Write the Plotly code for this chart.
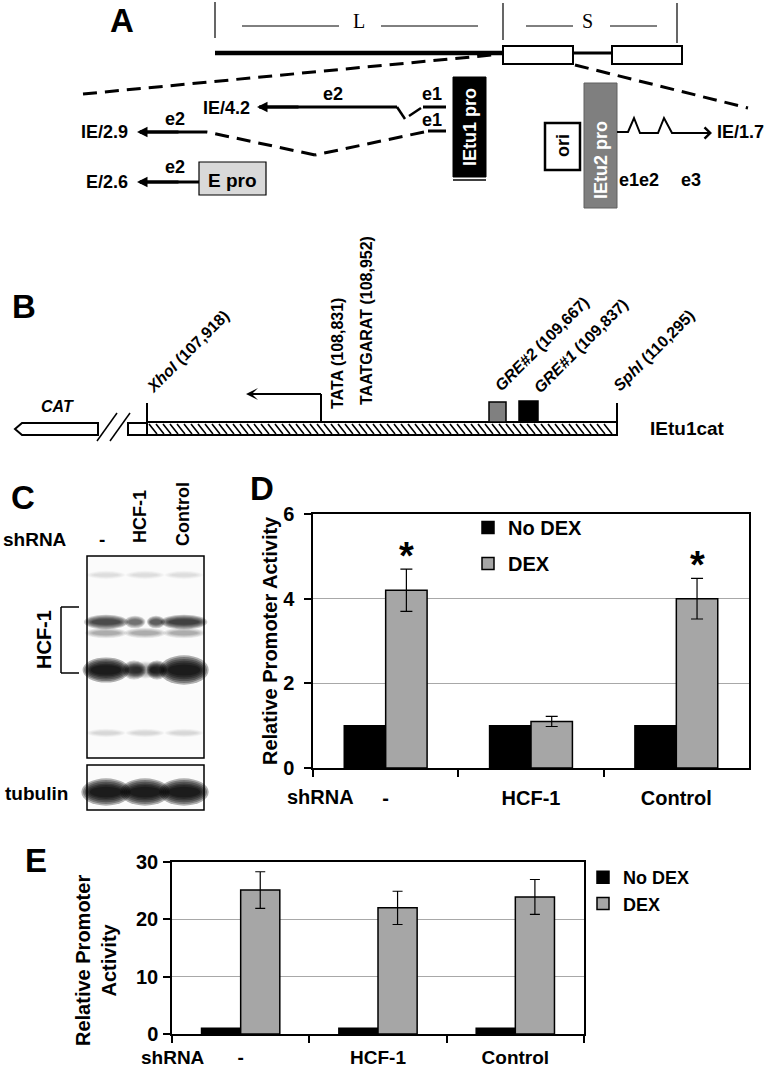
import plotly.graph_objects as go

W, H = 766, 1070
FONT = "Liberation Sans, Arial, Helvetica, sans-serif"
SERIF = "Liberation Serif, Times New Roman, serif"

# ---------------- data (panels D and E) ----------------
categories = ["-", "HCF-1", "Control"]
series_names = ["No DEX", "DEX"]
d_nodex = [1.0, 1.0, 1.0]
d_dex = [4.2, 1.1, 4.0]
d_dex_err = [0.5, 0.12, 0.48]
d_significant = [True, False, True]
d_yticks = [0, 2, 4, 6]
e_nodex = [1.0, 1.0, 1.0]
e_dex = [25.1, 22.0, 23.9]
e_dex_err = [3.2, 2.9, 3.05]
e_yticks = [0, 10, 20, 30]

NODEX_COLOR = "#000000"
DEX_COLOR = "#a6a6a6"
BARGAP = 0.43


def X(x):
    return x / W


def Y(y):
    return 1 - y / H


shapes = []
annotations = []


def line(x0, y0, x1, y1, w=1.0, color="black", dash=None):
    d = dict(type="line", xref="paper", yref="paper", x0=X(x0), y0=Y(y0), x1=X(x1), y1=Y(y1),
             line=dict(color=color, width=w))
    if dash:
        d["line"]["dash"] = dash
    shapes.append(d)


def rect(x0, y0, x1, y1, fill="white", lw=1.5, lc="black"):
    shapes.append(dict(type="rect", xref="paper", yref="paper", x0=X(x0), y0=Y(y0), x1=X(x1), y1=Y(y1),
                       fillcolor=fill, line=dict(color=lc, width=lw)))


def ellipse(cx, cy, w, h, fill):
    shapes.append(dict(type="circle", xref="paper", yref="paper", x0=X(cx - w / 2), y0=Y(cy + h / 2),
                       x1=X(cx + w / 2), y1=Y(cy - h / 2), fillcolor=fill, line=dict(width=0)))


def path(points, w=2.0, fill=None, close=False):
    s = "M" + " L".join(f"{X(px)},{Y(py)}" for px, py in points)
    if close:
        s += " Z"
    d = dict(type="path", xref="paper", yref="paper", path=s, line=dict(color="black", width=w))
    if fill:
        d["fillcolor"] = fill
    shapes.append(d)


def text(x, y, t, size=18, bold=True, color="black", angle=0, xanchor="center", family=FONT, italic=False):
    f = dict(family=family, size=size, color=color)
    if bold:
        f["weight"] = "bold"
    if italic:
        f["style"] = "italic"
    annotations.append(dict(xref="paper", yref="paper", x=X(x), y=Y(y), text=t, showarrow=False,
                            font=f, textangle=angle, xanchor=xanchor, yanchor="middle", borderpad=0))


def arrow(tipx, tipy, tailx, taily, w=3, size=0.7, head=2):
    annotations.append(dict(xref="paper", yref="paper", x=X(tipx), y=Y(tipy), axref="pixel", ayref="pixel",
                            ax=tailx - tipx, ay=taily - tipy, text="", showarrow=True, arrowhead=head,
                            arrowsize=size, arrowwidth=w, arrowcolor="black", standoff=0))


# ---------------- panel letters ----------------
for letter, lx, ly in [("A", 122, 20), ("B", 24, 306), ("C", 23, 497), ("D", 262, 489), ("E", 36, 860)]:
    text(lx, ly, letter, size=33)

# ---------------- panel A ----------------
line(215, 2, 215, 38, 1.2)
line(503, 3, 503, 40, 1.2)
line(677, 3, 677, 43, 1.2)
line(242, 26, 339, 26, 1)
line(381, 26, 478, 26, 1)
line(526, 26, 573, 26, 1)
line(610, 26, 657, 26, 1)
text(359, 21, "L", size=20, bold=False, family=SERIF)
text(587, 21, "S", size=20, bold=False, family=SERIF)
line(215, 53, 503, 53, 4.5)
rect(503, 46, 573, 64, "white", 2)
line(573, 53, 612, 53, 3)
rect(612, 46, 682, 64, "white", 2)
line(83, 94, 492, 55, 3, dash="14px,8px")
line(575, 65, 748, 108, 3, dash="14px,8px")

# IE/4.2 transcript
line(259, 107, 397, 107, 3)
arrow(257, 107, 300, 107)
line(397, 107, 405, 119, 2.5)
line(409, 116, 421, 108, 2.5)
line(423, 107, 446, 107, 3)
text(251, 108, "IE/4.2", xanchor="right")
text(333, 94, "e2")
text(432, 94, "e1")
# IE/2.9 transcript
line(428, 131, 446, 131, 3)
text(432, 120, "e1")
line(424, 132, 315, 155, 3, dash="14px,8px")
line(315, 155, 207, 132, 3, dash="14px,8px")
line(140, 132, 207, 132, 3)
arrow(137, 132, 180, 132)
text(129, 132, "IE/2.9", xanchor="right")
text(175, 119, "e2")
# E/2.6 transcript
line(140, 182, 199, 182, 3)
arrow(137, 182, 180, 182)
text(129, 182, "E/2.6", xanchor="right")
text(175, 167, "e2")
rect(199, 162, 266, 195, "#d9d9d9", 1.2)
text(232, 180, "E pro", size=19)
# promoters
rect(453, 77, 486, 177, "black", 1)
line(453, 180, 486, 180, 1.5)
text(470, 127, "IEtu1 pro", size=18, color="white", angle=-90)
rect(545, 123, 580, 170, "white", 2.5)
text(563, 146, "ori", size=18, angle=-90)
rect(584, 83, 617, 208, "#7f7f7f", 1, "#606060")
text(601, 160, "IEtu2 pro", size=18, color="white", angle=-90)
path([(617, 132), (628, 132), (634, 118), (640, 133), (658, 133), (664, 118), (672, 133), (707, 133)], w=2)
arrow(712, 133, 690, 133, w=2, size=1.1, head=4)
text(765, 132, "IE/1.7", xanchor="right", size=18)
text(639, 180, "e1e2")
text(691, 180, "e3")

# ---------------- panel B ----------------
path([(15, 429), (22, 423), (98, 423), (98, 435), (22, 435)], w=2, fill="white", close=True)
text(57, 406, "CAT", size=16, italic=True)
line(97, 441, 117, 413, 1.5)
line(110, 441, 130, 413, 1.5)
rect(128, 423, 147, 435, "white", 2)
rect(147, 422, 617, 435, "white", 2)
hatch = []
for hx in range(149, 610, 7):
    hatch.append(f"M{X(hx)},{Y(424)} L{X(hx + 8)},{Y(434)}")
shapes.append(dict(type="path", xref="paper", yref="paper", path=" ".join(hatch),
                   line=dict(color="black", width=1.6)))
line(147, 403, 147, 423, 2)
line(617, 403, 617, 435, 2)
line(321, 422, 321, 394, 2)
line(252, 394, 321, 394, 2)
arrow(246, 394, 280, 394, w=2, size=1.0, head=3)
rect(489, 402, 506, 422, "#808080", 1.5)
rect(519, 401, 538, 422, "black", 1.5)
text(188, 352, "<i>XhoI</i> (107,918)", size=16, angle=-45)
text(338, 354, "TATA (108,831)", size=16, angle=-90)
text(366, 321, "TAATGARAT (108,952)", size=16, angle=-90)
text(541, 344, "<i>GRE#2</i> (109,667)", size=16, angle=-45)
text(580, 346, "<i>GRE#1</i> (109,837)", size=16, angle=-45)
text(654, 351, "<i>SphI</i> (110,295)", size=16, angle=-45)
text(649, 428, "IEtu1cat", size=19, xanchor="left")

# ---------------- panel C (western blot) ----------------
text(35, 540, "shRNA", size=19)
text(102, 539, "-", size=19)
text(140, 517, "HCF-1", size=18, angle=-90)
text(183, 514, "Control", size=18, angle=-90)
rect(87, 556, 204, 758, "#fbfbfb", 1.5)
rect(87, 765, 204, 810, "#fbfbfb", 1.5)
text(36, 793, "tubulin", size=19)
line(61, 607, 61, 673, 1.5)
line(61, 607, 79, 607, 1.5)
line(61, 673, 79, 673, 1.5)
text(44, 640, "HCF-1", size=20, angle=-90)

lanes = [106, 145, 184]


def band(cx, cy, w, h, a):
    # soft band: stacked translucent ellipses, wide/faint outside to narrow/dark inside
    n = 6
    for k in range(n):
        t = k / (n - 1)
        ww = w * (1.3 - 0.45 * t)
        hh = h * (2.1 - 1.3 * t)
        ellipse(cx, cy, ww, hh, f"rgba(0,0,0,{a * 0.3:.3f})")


for cx in lanes:
    band(cx, 575, 30, 4, 0.06)
    band(cx, 733, 30, 4, 0.08)
band(lanes[0], 622, 34, 7, 0.6)
band(lanes[2], 622, 36, 7, 0.65)
band(lanes[1] - 10, 622, 16, 6, 0.4)
band(lanes[1] + 11, 622, 14, 6, 0.5)
for cx in lanes:
    band(cx, 633, 32, 5, 0.2)
band(lanes[0], 670, 36, 12, 1.0)
band(lanes[2], 670, 38, 14, 1.0)
band(lanes[1] - 11, 670, 18, 9, 0.6)
band(lanes[1] + 12, 670, 16, 9, 0.75)
band(lanes[1], 670, 30, 8, 0.25)
for cx in lanes:
    band(cx, 792, 38, 13, 1.0)

# ---------------- panels D and E (bar charts) ----------------
fig = go.Figure()
marker_line = dict(color="black", width=1.5)
fig.add_trace(go.Bar(x=categories, y=d_nodex, name=series_names[0], legendgroup="nodex",
                     marker=dict(color=NODEX_COLOR, line=marker_line), xaxis="x", yaxis="y", legend="legend"))
fig.add_trace(go.Bar(x=categories, y=d_dex, name=series_names[1], legendgroup="dex",
                     marker=dict(color=DEX_COLOR, line=marker_line),
                     error_y=dict(type="data", array=d_dex_err, color="black", thickness=1.2, width=6),
                     xaxis="x", yaxis="y", legend="legend"))
fig.add_trace(go.Bar(x=categories, y=e_nodex, name=series_names[0], legendgroup="nodex2",
                     marker=dict(color=NODEX_COLOR, line=marker_line), xaxis="x2", yaxis="y2", legend="legend2"))
fig.add_trace(go.Bar(x=categories, y=e_dex, name=series_names[1], legendgroup="dex2",
                     marker=dict(color=DEX_COLOR, line=marker_line),
                     error_y=dict(type="data", array=e_dex_err, color="black", thickness=1.2, width=5),
                     xaxis="x2", yaxis="y2", legend="legend2"))

# significance asterisks above DEX bars
dex_offset = (1 - BARGAP) / 4
for i, sig in enumerate(d_significant):
    if sig:
        annotations.append(dict(xref="x", yref="y", x=i + dex_offset, y=d_dex[i] + d_dex_err[i],
                                text="*", showarrow=False, yanchor="bottom", yshift=-10,
                                font=dict(family=FONT, size=38, color="black", weight="bold")))

# shRNA row labels and y-axis titles
text(320, 797, "shRNA", size=20)
text(173, 1057, "shRNA", size=19)
text(270, 641, "Relative Promoter Activity", size=20, angle=-90)
text(96, 960, "Relative Promoter<br>Activity", size=20, angle=-90)

bold20 = dict(family=FONT, size=20, color="black", weight="bold")
bold19 = dict(family=FONT, size=19, color="black", weight="bold")


def xaxis_cfg(domain, anchor, standoff, tfont):
    return dict(domain=domain, anchor=anchor, type="category", showline=True, linecolor="black",
                linewidth=1.5, mirror=True, ticks="outside", tickson="boundaries", ticklen=7,
                tickwidth=1.5, tickcolor="black", tickfont=tfont, ticklabelstandoff=standoff,
                showgrid=False, zeroline=False, automargin=False)


def yaxis_cfg(domain, anchor, rng, tickvals, standoff):
    return dict(domain=domain, anchor=anchor, range=rng, tickvals=tickvals, showline=True,
                linecolor="black", linewidth=1.5, mirror=True, ticks="outside", ticklen=7,
                tickwidth=1.5, tickcolor="black", tickfont=bold20, ticklabelstandoff=standoff,
                showgrid=True, gridcolor="#a8a8a8", gridwidth=1, zeroline=False, automargin=False)


fig.update_layout(
    width=W, height=H, margin=dict(l=0, r=0, t=0, b=0, autoexpand=False),
    paper_bgcolor="white", plot_bgcolor="white",
    barmode="group", bargap=BARGAP, bargroupgap=0,
    font=dict(family=FONT, color="black"),
    xaxis=xaxis_cfg([X(313), X(749)], "y", 11, bold20),
    yaxis=yaxis_cfg([Y(768), Y(514)], "x", [0, 6], d_yticks, 6),
    xaxis2=xaxis_cfg([X(172), X(584)], "y2", 5, bold19),
    yaxis2=yaxis_cfg([Y(1034), Y(862)], "x2", [0, 30], e_yticks, 1),
    legend=dict(x=X(468), y=Y(508), xanchor="left", yanchor="top", bgcolor="rgba(0,0,0,0)",
                font=bold20, traceorder="grouped", tracegroupgap=7),
    legend2=dict(x=X(583), y=Y(859), xanchor="left", yanchor="top", bgcolor="rgba(0,0,0,0)",
                 font=dict(family=FONT, size=18, color="black", weight="bold"), traceorder="grouped",
                 tracegroupgap=0),
    shapes=shapes, annotations=annotations,
)

fig.write_html(
    "out.html",
    config={"displayModeBar": False},
    post_script="document.body.style.margin='0';document.body.style.padding='0';"
                "document.documentElement.style.overflow='hidden';document.body.style.overflow='hidden';",
)
